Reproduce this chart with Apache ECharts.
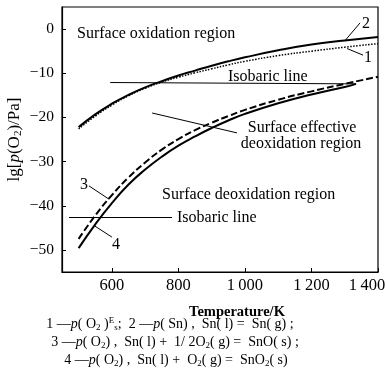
<!DOCTYPE html>
<html>
<head>
<meta charset="utf-8">
<script src="https://cdn.jsdelivr.net/npm/echarts@6/dist/echarts.min.js"></script>
<style>html,body{margin:0;padding:0;background:#fff;}#c{width:386px;height:382px;}</style>
</head>
<body>
<div id="c"></div>
<script>
// ---- data ----
const temps = [500, 550, 600, 650, 700, 750, 800, 850, 900, 950, 1000, 1100, 1200, 1300, 1400];
const curve1 = [-22.6, -19.7, -17.2, -15.1, -13.4, -12.0, -10.9, -9.9, -9.0, -8.1, -7.3, -6.0, -5.0, -4.1, -3.3];   // p(O2)s^E (dotted)
const curve2 = [-22.2, -19.3, -16.9, -14.9, -13.2, -11.8, -10.5, -9.4, -8.3, -7.3, -6.4, -4.8, -3.5, -2.6, -1.8];    // p(Sn) (solid)
const curve3 = [-47.5, -42.2, -37.6, -33.6, -30.2, -27.3, -24.9, -22.9, -21.2, -19.7, -18.3, -16.0, -14.1, -12.4, -10.8]; // SnO (dashed)
const temps4 = [500, 550, 600, 650, 700, 750, 800, 850, 900, 950, 1000, 1100, 1200, 1300, 1334];
const curve4 = [-49.6, -44.2, -39.4, -35.2, -31.8, -28.9, -26.4, -24.3, -22.4, -20.7, -19.2, -16.8, -14.8, -13.1, -12.4]; // SnO2 (solid)
const upperIsobar = [[595, -12.1], [1334, -12.4]];
const lowerIsobar = [[471, -42.7], [781, -42.7]];
const xTicks = [600, 800, 1000, 1200, 1400];
const yTicks = [-50, -40, -30, -20, -10, 0];
// leader lines for labels [start, end]
const leader1 = [[1355, -5.9], [1307, -4.4]];
const leader2 = [[1346, 1.4], [1301, -2.6]];
const leader3 = [[531, -35.5], [591, -38.5]];
const leader4 = [[549, -44.6], [600, -47.1]];
const leaderEff = [[721, -19.0], [976, -23.5]];

const SERIF = '"Liberation Serif", "DejaVu Serif", serif';
const zip = (xs, ys) => xs.map((x, i) => [x, ys[i]]);
const seg = (p) => [{coord: p[0]}, {coord: p[1]}];
const fmtNum = (v) => {
  const s = String(Math.abs(v));
  const t = s.length > 3 ? s.slice(0, s.length - 3) + '\u2009' + s.slice(s.length - 3) : s;
  return (v < 0 ? '\u2212' : '') + t;
};

const chart = echarts.init(document.getElementById('c'), null, {renderer: 'canvas'});
const txt = (x, y, text, opts) => ({
  type: 'text', x: x, y: y, silent: true,
  style: Object.assign({text: text, fill: '#000', font: '16px ' + SERIF, textAlign: 'left', textVerticalAlign: 'middle'}, opts || {})
});
const richBase = {
  n: {fontFamily: SERIF, fontSize: 14, color: '#000', lineHeight: 16},
  i: {fontFamily: SERIF, fontSize: 14, fontStyle: 'italic', color: '#000', lineHeight: 16},
  sub: {fontFamily: SERIF, fontSize: 9, color: '#000', verticalAlign: 'bottom', lineHeight: 16},
  sup: {fontFamily: SERIF, fontSize: 9, color: '#000', verticalAlign: 'top', lineHeight: 16}
};

chart.setOption({
  animation: false,
  backgroundColor: '#fff',
  grid: {left: 62, top: 7, width: 316, height: 265, show: true, borderColor: '#000', borderWidth: 1.2,
    backgroundColor: 'transparent', containLabel: false, outerBoundsMode: 'none'},
  xAxis: {
    type: 'value', min: 450, max: 1400,
    axisLine: {show: true, onZero: false, lineStyle: {color: '#000', width: 1.2}},
    axisTick: {show: true, inside: true, length: 4, customValues: xTicks, lineStyle: {color: '#000'}},
    splitLine: {show: false},
    axisLabel: {
      customValues: xTicks, margin: 5, color: '#000', fontFamily: SERIF, fontSize: 16.5,
      formatter: (v) => v === 1400 ? '{last|' + fmtNum(v) + '}' : fmtNum(v),
      rich: {last: {fontFamily: SERIF, fontSize: 16.5, color: '#000', padding: [0, 22, 0, 0]}}
    },
    name: 'Temperature/K', nameLocation: 'middle', nameGap: 33,
    nameTextStyle: {color: '#000', fontFamily: SERIF, fontSize: 14.5, fontWeight: 'bold', padding: [0, 0, 0, 34]}
  },
  yAxis: {
    type: 'value', min: -55, max: 5,
    axisLine: {show: true, onZero: false, lineStyle: {color: '#000', width: 1.2}},
    axisTick: {show: true, inside: true, length: 4, customValues: yTicks, lineStyle: {color: '#000'}},
    splitLine: {show: false},
    axisLabel: {customValues: yTicks, margin: 8, color: '#000', fontFamily: SERIF, fontSize: 15.5, formatter: fmtNum},
    name: '{n|lg[}{i|p}{n|(O}{sub|2}{n|)/Pa]}', nameLocation: 'middle', nameRotate: 90, nameGap: 38,
    nameMoveOverlap: false,
    nameTextStyle: {
      color: '#000', fontFamily: SERIF, fontSize: 17,
      rich: {
        n: {fontFamily: SERIF, fontSize: 17, color: '#000', lineHeight: 19},
        i: {fontFamily: SERIF, fontSize: 17, fontStyle: 'italic', color: '#000', lineHeight: 19},
        sub: {fontFamily: SERIF, fontSize: 11, color: '#000', verticalAlign: 'bottom', lineHeight: 19}
      }
    }
  },
  series: [
    {
      type: 'line', name: '1', data: zip(temps, curve1), symbol: 'none', smooth: 0.5,
      lineStyle: {color: '#000', width: 1.5, type: [1.5, 1.5]},
      markLine: {silent: true, symbol: 'none', label: {show: false}, lineStyle: {color: '#000', width: 1, type: 'solid'}, data: [seg(leader1)]}
    },
    {
      type: 'line', name: '2', data: zip(temps, curve2), symbol: 'none', smooth: 0.5,
      lineStyle: {color: '#000', width: 2},
      markLine: {silent: true, symbol: ['none', 'arrow'], symbolSize: [0, 8], label: {show: false}, lineStyle: {color: '#000', width: 1, type: 'solid'},
        data: [seg(upperIsobar), seg(lowerIsobar)]}
    },
    {
      type: 'line', name: '3', data: zip(temps, curve3), symbol: 'none', smooth: 0.5,
      lineStyle: {color: '#000', width: 2, type: [7, 3]},
      markLine: {silent: true, symbol: 'none', label: {show: false}, lineStyle: {color: '#000', width: 1, type: 'solid'}, data: [seg(leader2), seg(leader3)]}
    },
    {
      type: 'line', name: '4', data: zip(temps4, curve4), symbol: 'none', smooth: 0.5,
      lineStyle: {color: '#000', width: 2},
      markLine: {silent: true, symbol: 'none', label: {show: false}, lineStyle: {color: '#000', width: 1, type: 'solid'}, data: [seg(leader4), seg(leaderEff)]}
    }
  ],
  graphic: [
    txt(77, 34, 'Surface oxidation region'),
    txt(228, 77, 'Isobaric line'),
    txt(302, 128, 'Surface effective', {textAlign: 'center'}),
    txt(301, 144, 'deoxidation region', {textAlign: 'center'}),
    txt(162, 195, 'Surface deoxidation region'),
    txt(177, 218, 'Isobaric line'),
    txt(368, 58, '1', {textAlign: 'center'}),
    txt(366, 24, '2', {textAlign: 'center'}),
    txt(84, 185, '3', {textAlign: 'center'}),
    txt(116, 245, '4', {textAlign: 'center'}),
    {type: 'text', x: 170, y: 324, silent: true, style: {
      text: '{n|1 —}{i|p}{n|( O}{sub|2}{n| )}{sup|E}{sub|s}{n|;  2 —}{i|p}{n|( Sn) ,  Sn( l) =  Sn( g) ;}',
      rich: richBase, textAlign: 'center', textVerticalAlign: 'middle'}},
    {type: 'text', x: 175, y: 342, silent: true, style: {
      text: '{n|3 —}{i|p}{n|( O}{sub|2}{n|) ,  Sn( l) +  1/ 2O}{sub|2}{n|( g) =  SnO( s) ;}',
      rich: richBase, textAlign: 'center', textVerticalAlign: 'middle'}},
    {type: 'text', x: 176, y: 360, silent: true, style: {
      text: '{n|4 —}{i|p}{n|( O}{sub|2}{n|) ,  Sn( l) +  O}{sub|2}{n|( g) =  SnO}{sub|2}{n|( s)}',
      rich: richBase, textAlign: 'center', textVerticalAlign: 'middle'}}
  ]
});
</script>
</body>
</html>
